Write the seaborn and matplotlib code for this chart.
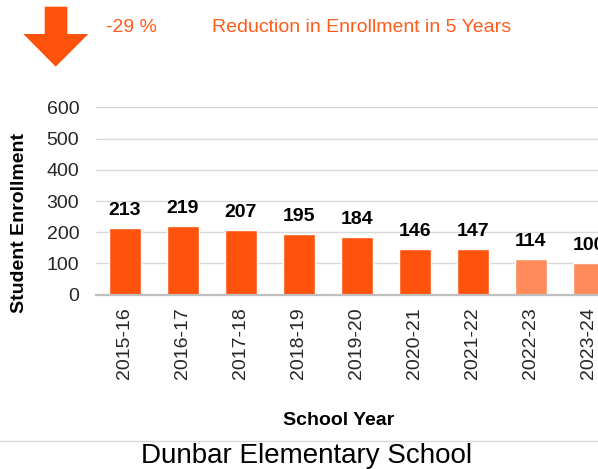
import matplotlib
matplotlib.use("Agg")
import matplotlib.pyplot as plt
from matplotlib.patches import Polygon
from matplotlib.transforms import Affine2D
import seaborn as sns
import pandas as pd

# Enrollment by school year
years = ["2015-16", "2016-17", "2017-18", "2018-19", "2019-20",
         "2020-21", "2021-22", "2022-23", "2023-24"]
enrollment = [213, 219, 207, 195, 184, 146, 147, 114, 100]
projected = [False, False, False, False, False, False, False, True, True]
y_ticks = [0, 100, 200, 300, 400, 500, 600]

change_text = "-29 %"
headline = "Reduction in Enrollment in 5 Years"
school = "Dunbar Elementary School"

ACTUAL = "#FF530D"
PROJECTED = "#FF8B5A"
ACCENT = "#FF5B1A"

W, H, DPI = 598, 469, 100

sns.set_theme(style="white")
plt.rcParams["font.family"] = ["Liberation Sans", "DejaVu Sans"]
plt.rcParams["ytick.major.pad"] = 12
plt.rcParams["xtick.major.pad"] = 9

df = pd.DataFrame({"year": years, "enrollment": enrollment})
palette = {y: (PROJECTED if p else ACTUAL) for y, p in zip(years, projected)}

fig = plt.figure(figsize=(W / DPI, H / DPI), dpi=DPI)

# pixel-based placement of the plot area (extends past the right edge)
left_px, right_px, bottom_px, top_px = 96, 618, 294.7, 107.3
ax = fig.add_axes([left_px / W, 1 - bottom_px / H,
                   (right_px - left_px) / W, (bottom_px - top_px) / H])

sns.barplot(data=df, x="year", y="enrollment", hue="year", palette=palette,
            legend=False, width=0.55, saturation=1, ax=ax, zorder=3)

ax.set_xlim(-0.5, len(years) - 0.5)
ax.set_ylim(0, 600)
ax.set_yticks(y_ticks)
ax.grid(axis="y", color="#D9D9D9", linewidth=1, zorder=0)
ax.grid(axis="x", visible=False)
for side in ["top", "right", "left"]:
    ax.spines[side].set_visible(False)
ax.spines["bottom"].set_color("#BFBFBF")
ax.spines["bottom"].set_linewidth(1.6)
ax.spines["bottom"].set_zorder(4)

ax.tick_params(axis="both", length=0, labelsize=14, colors="#262626")
ax.tick_params(axis="y", pad=12)
ax.tick_params(axis="x", pad=9)
for lbl in ax.get_xticklabels():
    lbl.set_rotation(90)

# value labels above each bar
for i, v in enumerate(enrollment):
    ax.annotate(f"{v}", xy=(i, v), xytext=(0, 9.4), textcoords="offset points",
                ha="center", va="baseline", fontsize=14, fontweight="bold",
                color="black", annotation_clip=False)

ax.set_ylabel("Student Enrollment", fontsize=14, fontweight="bold", color="black")
ax.yaxis.label.set_va("center")
ax.yaxis.label.set_ha("center")
ax.yaxis.set_label_coords((20 - left_px) / (right_px - left_px),
                          (bottom_px - 223) / (bottom_px - top_px))

ax.set_xlabel("School Year", fontsize=14, fontweight="bold", color="black")
ax.xaxis.label.set_va("baseline")
ax.xaxis.label.set_ha("center")
ax.xaxis.set_label_coords((339 - left_px) / (right_px - left_px),
                          (bottom_px - 425) / (bottom_px - top_px))

# pixel transform (origin top-left) for header / footer decorations
px = Affine2D().scale(1 / W, -1 / H).translate(0, 1) + fig.transFigure

arrow = Polygon([(44.7, 6.7), (67.3, 6.7), (67.3, 34), (88.3, 34),
                 (55.7, 66.7), (23.3, 34), (44.7, 34)],
                closed=True, facecolor=ACTUAL, edgecolor="none", transform=px)
fig.patches.append(arrow)

fig.text(106.5, 31.7, change_text, transform=px, fontsize=14, color=ACCENT,
         ha="left", va="baseline")
fig.text(212.5, 31.7, headline, transform=px, fontsize=14, color=ACCENT,
         ha="left", va="baseline")

fig.add_artist(plt.Line2D([0, W], [441, 441], transform=px,
                          color="#D9D9D9", linewidth=1))
fig.text(307, 463, school, transform=px, fontsize=20, color="black",
         ha="center", va="baseline")

fig.savefig("out.png", dpi=DPI)
